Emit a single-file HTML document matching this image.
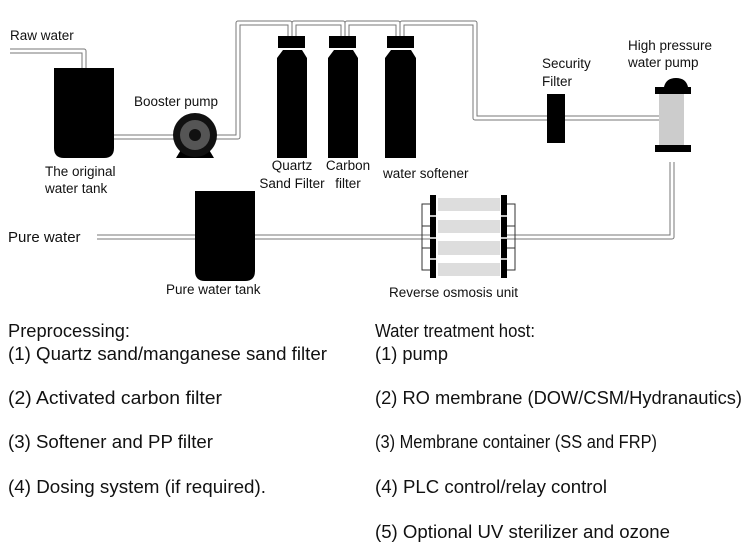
<!DOCTYPE html>
<html><head><meta charset="utf-8"><style>
html,body{margin:0;padding:0;background:#fff;}
svg{display:block;}
text{font-family:"Liberation Sans",sans-serif;fill:#111;}
</style></head><body>
<svg width="750" height="548" viewBox="0 0 750 548" xmlns="http://www.w3.org/2000/svg">
<g fill="none" stroke-linejoin="round">
<g stroke="#777" stroke-width="5">
<path d="M10 51 H84 V68"/>
<path d="M114 137 H175"/>
<path d="M215 137 H238 V23 H290 V36"/>
<path d="M294 36 V23 H343 V36"/>
<path d="M347 36 V23 H398 V36"/>
<path d="M402 36 V23 H475 V118 H547"/>
<path d="M565 118 H659"/>
<path d="M672 162 V237 H507"/>
<path d="M430 237 H97"/>
</g>
<g stroke="#fff" stroke-width="3">
<path d="M10 51 H84 V68"/>
<path d="M114 137 H175"/>
<path d="M215 137 H238 V23 H290 V36"/>
<path d="M294 36 V23 H343 V36"/>
<path d="M347 36 V23 H398 V36"/>
<path d="M402 36 V23 H475 V118 H547"/>
<path d="M565 118 H659"/>
<path d="M672 162 V237 H507"/>
<path d="M430 237 H97"/>
</g>
</g>
<path d="M54 68 H114 V148 Q114 158 104 158 H64 Q54 158 54 148 Z" fill="#000"/>
<path d="M195 191 H255 V271 Q255 281 245 281 H205 Q195 281 195 271 Z" fill="#000"/>
<path d="M176 158 L182 148 H208 L214 158 Z" fill="#000"/>
<circle cx="195" cy="135" r="22" fill="#111"/>
<circle cx="195" cy="135" r="15" fill="#555"/>
<circle cx="195" cy="135" r="6" fill="#111"/>
<g fill="#000">
<rect x="278" y="36" width="27" height="12"/>
<path d="M283 50 H302 L307 58 V158 H277 V58 Z"/>
<rect x="329" y="36" width="27" height="12"/>
<path d="M334 50 H353 L358 58 V158 H328 V58 Z"/>
<rect x="387" y="36" width="27" height="12"/>
<path d="M391 50 H411 L416 58 V158 H385 V58 Z"/>
<rect x="547" y="94" width="18" height="49"/>
<path d="M664 87 Q666 78 676 78 Q686 78 688 87 Z"/>
<rect x="655" y="87" width="36" height="7"/>
<rect x="655" y="145" width="36" height="7"/>
</g>
<rect x="659" y="94" width="25" height="51" fill="#ccc"/>
<g fill="#ddd">
<rect x="438" y="198" width="62" height="13"/>
<rect x="438" y="220" width="62" height="13"/>
<rect x="438" y="241" width="62" height="14"/>
<rect x="438" y="263" width="62" height="13"/>
</g>
<g fill="#000">
<rect x="430" y="195" width="6" height="83"/>
<rect x="501" y="195" width="6" height="83"/>
</g>
<g stroke="#fff" stroke-width="1.5">
<path d="M430 216 H436 M430 238 H436 M430 259 H436 M501 216 H507 M501 238 H507 M501 259 H507"/>
</g>
<g stroke="#333" stroke-width="1" fill="none">
<path d="M430 204 H422 V270 H430 M422 226 H430 M422 248 H430"/>
<path d="M507 204 H515 V270 H507 M515 226 H507 M515 248 H507"/>
</g>
<g font-size="13.5">
<text x="10" y="40">Raw water</text>
<text x="134" y="106">Booster pump</text>
<text x="45" y="176">The original</text>
<text x="45" y="193">water tank</text>
<text x="292" y="170" text-anchor="middle">Quartz</text>
<text x="292" y="188" text-anchor="middle">Sand Filter</text>
<text x="348" y="170" text-anchor="middle">Carbon</text>
<text x="348" y="188" text-anchor="middle">filter</text>
<text x="383" y="178">water softener</text>
<text x="542" y="68">Security</text>
<text x="542" y="86">Filter</text>
<text x="628" y="50">High pressure</text>
<text x="628" y="67">water pump</text>
<text x="166" y="294">Pure water tank</text>
<text x="389" y="297">Reverse osmosis unit</text>
</g>
<text x="8" y="242" font-size="15">Pure water</text>
<g font-size="18">
<text x="8" y="337" textLength="122" lengthAdjust="spacingAndGlyphs">Preprocessing:</text>
<text x="8" y="360" textLength="319" lengthAdjust="spacingAndGlyphs">(1) Quartz sand/manganese sand filter</text>
<text x="8" y="404" textLength="214" lengthAdjust="spacingAndGlyphs">(2) Activated carbon filter</text>
<text x="8" y="448" textLength="205" lengthAdjust="spacingAndGlyphs">(3) Softener and PP filter</text>
<text x="8" y="493" textLength="258" lengthAdjust="spacingAndGlyphs">(4) Dosing system (if required).</text>
<text x="375" y="337" textLength="160" lengthAdjust="spacingAndGlyphs">Water treatment host:</text>
<text x="375" y="360" textLength="73" lengthAdjust="spacingAndGlyphs">(1) pump</text>
<text x="375" y="404" textLength="367" lengthAdjust="spacingAndGlyphs">(2) RO membrane (DOW/CSM/Hydranautics)</text>
<text x="375" y="448" textLength="282" lengthAdjust="spacingAndGlyphs">(3) Membrane container (SS and FRP)</text>
<text x="375" y="493" textLength="232" lengthAdjust="spacingAndGlyphs">(4) PLC control/relay control</text>
<text x="375" y="538" textLength="295" lengthAdjust="spacingAndGlyphs">(5) Optional UV sterilizer and ozone</text>
</g>
</svg>
</body></html>
